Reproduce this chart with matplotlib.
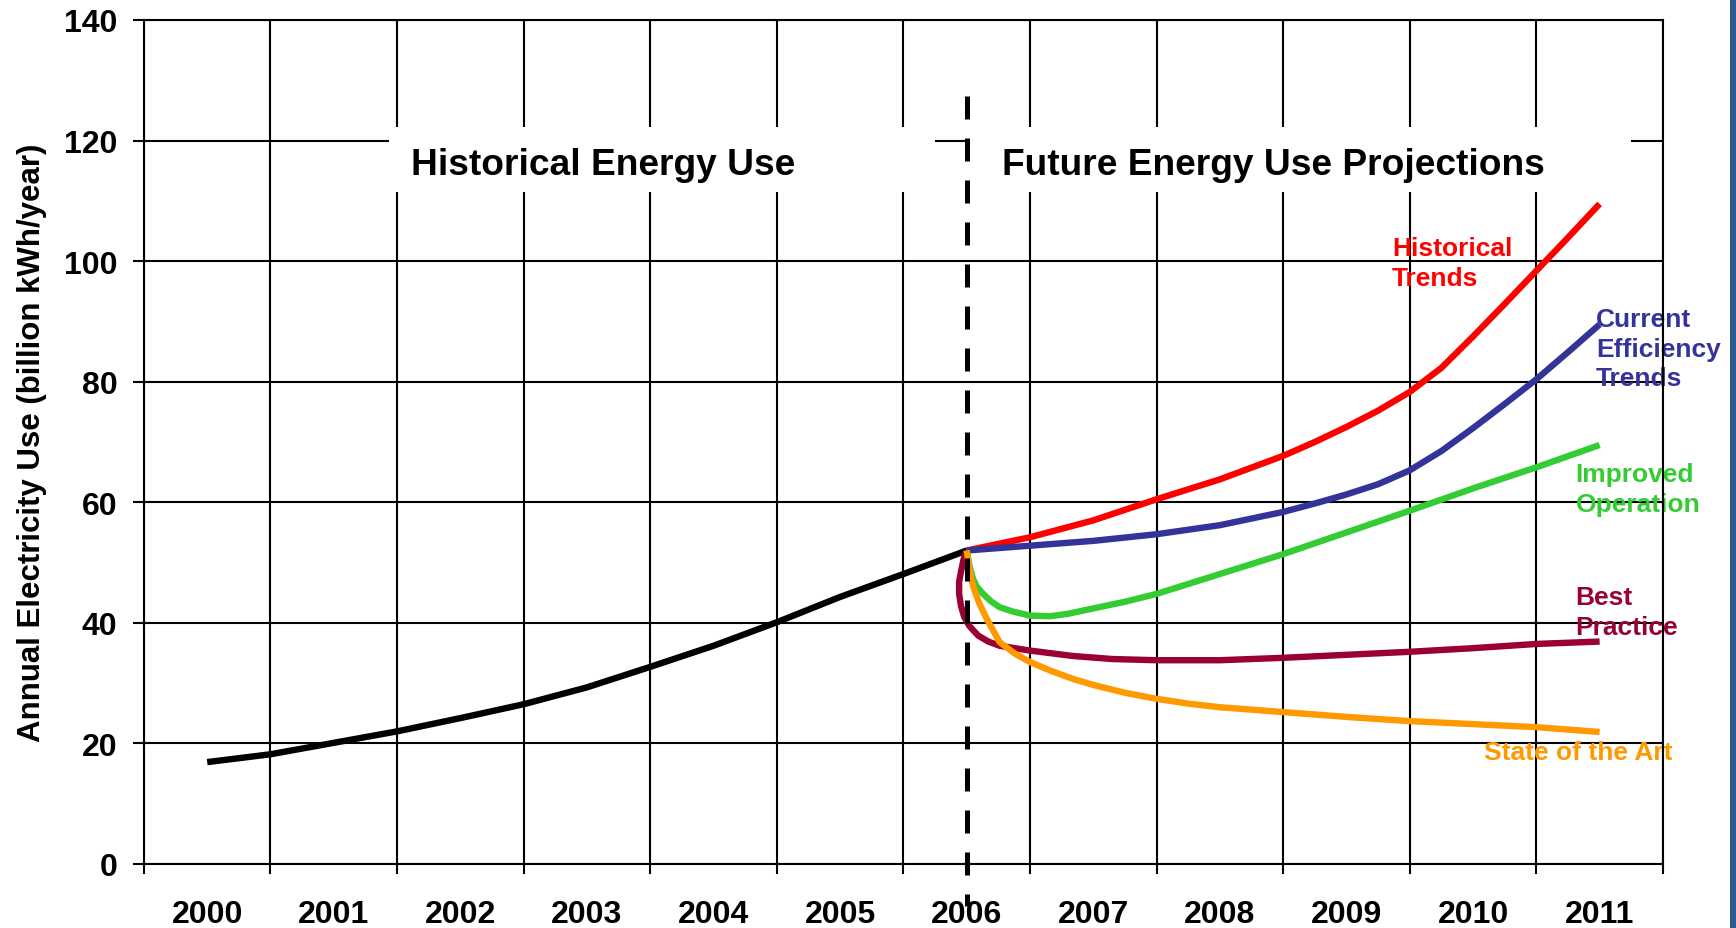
import matplotlib
matplotlib.use("Agg")
import matplotlib.pyplot as plt
from matplotlib.patches import Rectangle

plt.rcParams['font.family'] = ['Liberation Sans', 'DejaVu Sans']
plt.rcParams['font.weight'] = 'bold'

# --- data ---
years = [2000, 2001, 2002, 2003, 2004, 2005, 2006, 2007, 2008, 2009, 2010, 2011]
year_labels = [str(y) for y in years]
y_ticks = [0, 20, 40, 60, 80, 100, 120, 140]

hist_years = [2000, 2000.5, 2001, 2001.5, 2002, 2002.5, 2003, 2003.5, 2004, 2004.5, 2005, 2005.5, 2006]
hist_vals = [16.9, 18.2, 20.1, 22.0, 24.2, 26.5, 29.3, 32.7, 36.2, 40.1, 44.3, 48.1, 52.0]

trend_years = [2006, 2006.5, 2007, 2007.5, 2008, 2008.5, 2008.75, 2009, 2009.25, 2009.5,
               2009.75, 2010, 2010.25, 2010.5, 2010.75, 2011]
hist_trend_vals = [52.0, 54.2, 57.0, 60.5, 63.8, 67.7, 70.0, 72.5, 75.2, 78.3,
                   82.3, 87.5, 92.9, 98.4, 103.9, 109.5]
cur_eff_vals = [52.0, 52.8, 53.6, 54.7, 56.2, 58.4, 59.8, 61.3, 63.0, 65.3,
                68.5, 72.3, 76.3, 80.4, 84.9, 89.5]

improved_years = [2006, 2006.02, 2006.05, 2006.08, 2006.13, 2006.19, 2006.26, 2006.36, 2006.5,
                  2006.66, 2006.8, 2007, 2007.25, 2007.5, 2008, 2008.5, 2009, 2009.5,
                  2010, 2010.5, 2011]
improved_vals = [52.0, 49.6, 47.3, 46.0, 44.8, 43.6, 42.6, 41.9, 41.2,
                 41.1, 41.5, 42.4, 43.5, 44.8, 48.1, 51.4, 55.0, 58.6,
                 62.3, 65.8, 69.5]

best_years = [2006, 2005.975, 2005.955, 2005.94, 2005.94, 2005.955, 2005.98, 2006.02, 2006.09,
              2006.17, 2006.26, 2006.38, 2006.5, 2006.84, 2007.15, 2007.5, 2008, 2008.5,
              2009, 2009.5, 2010, 2010.5, 2011]
best_vals = [52.0, 50.5, 48.5, 46.8, 44.8, 42.8, 41.0, 39.5, 37.9,
             36.9, 36.2, 35.8, 35.4, 34.5, 34.0, 33.8, 33.8, 34.2,
             34.7, 35.2, 35.8, 36.5, 36.9]

sota_years = [2006, 2006.02, 2006.05, 2006.1, 2006.16, 2006.26, 2006.38, 2006.5, 2006.67,
              2006.84, 2007, 2007.25, 2007.5, 2007.75, 2008, 2008.5, 2009, 2009.5,
              2010, 2010.5, 2011]
sota_vals = [52.0, 49.0, 46.1, 43.2, 40.6, 36.8, 34.9, 33.5, 32.0,
             30.7, 29.7, 28.4, 27.4, 26.6, 26.0, 25.2, 24.4, 23.7,
             23.2, 22.7, 21.9]

divider_year = 2006

fig = plt.figure(figsize=(17.36, 9.29), dpi=100)
ax = fig.add_axes([0.0829, 0.0689, 0.8750, 0.9085])

# category-style x axis: gridlines on boundaries, labels at centres
bounds = [y - 0.5 for y in years] + [years[-1] + 0.5]
ax.set_xlim(bounds[0], bounds[-1])
ax.set_ylim(0, 140)
ax.set_xticks(bounds)
ax.set_xticklabels([])
ax.set_xticks(years, minor=True)
ax.set_xticklabels(year_labels, minor=True, fontsize=23, fontweight='bold')
ax.set_yticks(y_ticks)
ax.set_yticklabels([str(v) for v in y_ticks], fontsize=23, fontweight='bold')
ax.tick_params(axis='x', which='major', length=7, width=1.5, direction='out')
ax.tick_params(axis='x', which='minor', length=0, pad=25)
ax.tick_params(axis='y', length=8, width=1.5, direction='out', pad=11)
ax.grid(True, which='major', color='black', linewidth=1.5, zorder=0.5)
ax.set_axisbelow(True)
for sp in ax.spines.values():
    sp.set_linewidth(1.5)

ax.set_ylabel('Annual Electricity Use (billion kWh/year)', fontsize=22.5, fontweight='bold')
ax.yaxis.set_label_coords(-0.064, 0.5)

# white boxes behind the section headings
ax.add_patch(Rectangle((2001.44, 111.5), 4.31, 10.7, facecolor='white',
                       edgecolor='none', zorder=1))
ax.add_patch(Rectangle((2005.99, 111.5), 5.26, 10.7, facecolor='white',
                       edgecolor='none', zorder=1))
ax.text(2003.13, 116.0, 'Historical Energy Use', fontsize=26.7, fontweight='bold',
        ha='center', va='center', zorder=2)
ax.text(2008.42, 116.0, 'Future Energy Use Projections', fontsize=26.7, fontweight='bold',
        ha='center', va='center', zorder=2)

lw = 4.6
ax.plot(hist_years, hist_vals, color='black', lw=lw, zorder=3, solid_capstyle='butt')
ax.plot(trend_years, hist_trend_vals, color='#FF0000', lw=lw, zorder=3, solid_capstyle='butt')
ax.plot(trend_years, cur_eff_vals, color='#333399', lw=lw, zorder=3, solid_capstyle='butt')
ax.plot(improved_years, improved_vals, color='#33CC33', lw=lw, zorder=3, solid_capstyle='butt')
ax.plot(best_years, best_vals, color='#990033', lw=lw, zorder=3, solid_capstyle='butt')
ax.plot(sota_years, sota_vals, color='#FF9900', lw=lw, zorder=3, solid_capstyle='butt')

# dashed divider between history and projections
ax.plot([divider_year, divider_year], [0.91, -0.05], transform=ax.get_xaxis_transform(),
        color='black', lw=3.6, dashes=(4.6, 3.8), clip_on=False, zorder=5)

lab = dict(fontsize=19, fontweight='bold', ha='left', va='top', linespacing=1.3,
           zorder=2, clip_on=False)
ax.text(2009.36, 104.1, 'Historical\nTrends', color='#FF0000', **lab)
ax.text(2010.97, 92.4, 'Current\nEfficiency\nTrends', color='#333399', **lab)
ax.text(2010.81, 66.6, 'Improved\nOperation', color='#33CC33', **lab)
ax.text(2010.81, 46.3, 'Best\nPractice', color='#990033', **lab)
ax.text(2010.09, 20.6, 'State of the Art', color='#FF9900', **lab)

# slide border on the right edge
fig.patches.append(Rectangle((0.9965, 0), 0.0035, 1, transform=fig.transFigure,
                             facecolor='#2E5C8A', edgecolor='none'))

fig.savefig('out.png', dpi=100)
